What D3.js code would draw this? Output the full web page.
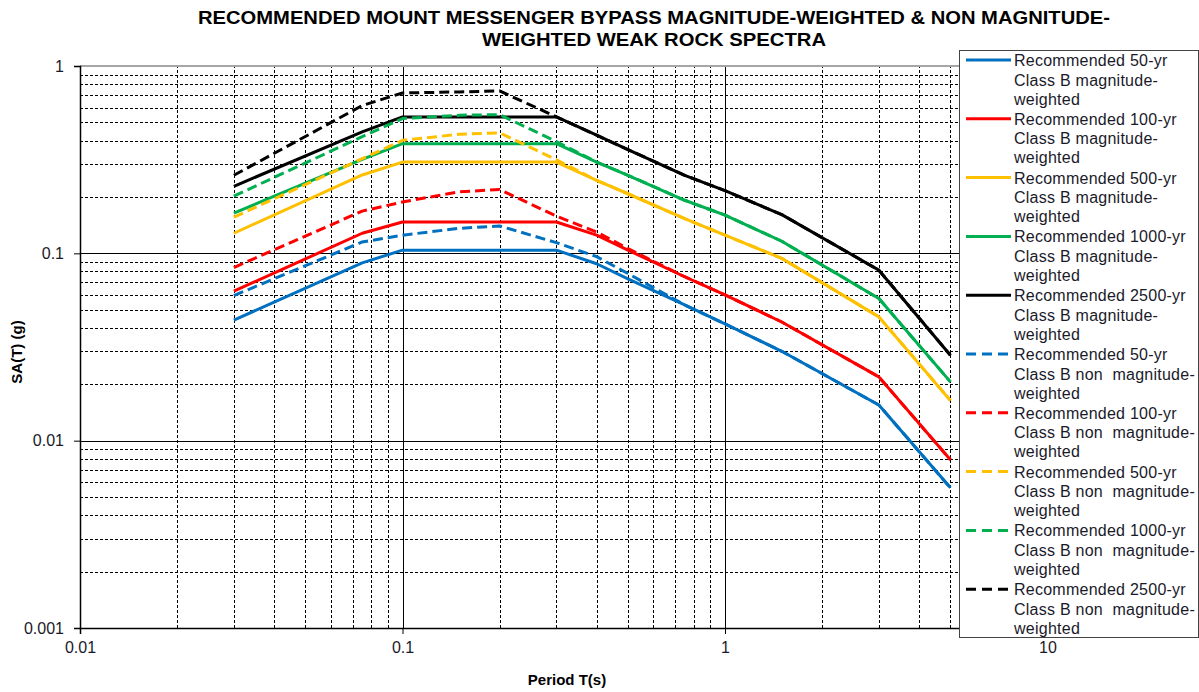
<!DOCTYPE html>
<html>
<head>
<meta charset="utf-8">
<script src="https://cdn.jsdelivr.net/npm/d3@7/dist/d3.min.js"></script>
<style>
  body { margin: 0; background: #fff; }
  svg { font-family: "Liberation Sans", Arial, sans-serif; }
</style>
</head>
<body>
<div id="chart"></div>
<script>
// periods (s) shared by all series
var periods = [0.03, 0.075, 0.1, 0.15, 0.2, 0.3, 0.4, 0.5, 0.75, 1, 1.5, 3, 5];

// magnitude-weighted (solid)
var mw50   = [0.044, 0.089, 0.104, 0.104, 0.104, 0.104, 0.088, 0.073, 0.053, 0.042, 0.030, 0.0155, 0.0056];
var mw100  = [0.0628, 0.128, 0.147, 0.147, 0.147, 0.147, 0.125, 0.104, 0.075, 0.060, 0.043, 0.0219, 0.0079];
var mw500  = [0.128, 0.262, 0.307, 0.307, 0.307, 0.307, 0.245, 0.208, 0.153, 0.125, 0.094, 0.0458, 0.0164];
var mw1000 = [0.164, 0.317, 0.385, 0.385, 0.385, 0.385, 0.307, 0.261, 0.192, 0.160, 0.116, 0.0574, 0.0206];
var mw2500 = [0.228, 0.445, 0.535, 0.535, 0.535, 0.535, 0.427, 0.358, 0.261, 0.216, 0.161, 0.0813, 0.0286];

// non magnitude-weighted (dashed)
var nmw50   = [0.0595, 0.115, 0.125, 0.136, 0.140, 0.114, 0.096, 0.078, 0.053, 0.042, 0.030, 0.0155, 0.0056];
var nmw100  = [0.084, 0.168, 0.188, 0.213, 0.219, 0.158, 0.130, 0.106, 0.075, 0.060, 0.043, 0.0219, 0.0079];
var nmw500  = [0.156, 0.320, 0.401, 0.432, 0.440, 0.316, 0.245, 0.208, 0.153, 0.125, 0.094, 0.0458, 0.0164];
var nmw1000 = [0.202, 0.420, 0.524, 0.546, 0.550, 0.395, 0.307, 0.261, 0.192, 0.160, 0.116, 0.0574, 0.0206];
var nmw2500 = [0.261, 0.615, 0.718, 0.727, 0.736, 0.535, 0.427, 0.358, 0.261, 0.216, 0.161, 0.0813, 0.0286];

var xTicks = [0.01, 0.1, 1, 10];
var yTicks = [0.001, 0.01, 0.1, 1];

var names = ["Recommended 50-yr", "Recommended 100-yr", "Recommended 500-yr", "Recommended 1000-yr", "Recommended 2500-yr"];
var colors = ["#0070C0", "#FF0000", "#FFC000", "#00B050", "#000000"];

var series = [
  {name: names[0], cls: "Class B magnitude-", vals: mw50, c: colors[0], dash: false},
  {name: names[1], cls: "Class B magnitude-", vals: mw100, c: colors[1], dash: false},
  {name: names[2], cls: "Class B magnitude-", vals: mw500, c: colors[2], dash: false},
  {name: names[3], cls: "Class B magnitude-", vals: mw1000, c: colors[3], dash: false},
  {name: names[4], cls: "Class B magnitude-", vals: mw2500, c: colors[4], dash: false},
  {name: names[0], cls: "Class B non  magnitude-", vals: nmw50, c: colors[0], dash: true},
  {name: names[1], cls: "Class B non  magnitude-", vals: nmw100, c: colors[1], dash: true},
  {name: names[2], cls: "Class B non  magnitude-", vals: nmw500, c: colors[2], dash: true},
  {name: names[3], cls: "Class B non  magnitude-", vals: nmw1000, c: colors[3], dash: true},
  {name: names[4], cls: "Class B non  magnitude-", vals: nmw2500, c: colors[4], dash: true}
];

var W = 1199, H = 692,
    p = {left: 80, right: 1047.5, top: 66, bot: 628};

var svg = d3.select("#chart").append("svg")
  .attr("width", W)
  .attr("height", H)

var x = d3.scaleLog().domain([0.01, 10]).range([p.left, p.right]);
var y = d3.scaleLog().domain([0.001, 1]).range([p.bot, p.top]);

// minor grid positions (2..9 in every decade)
var xMinor = [], yMinor = [];
xTicks.slice(0, -1).forEach(function(t){ for (var k = 2; k < 10; k++) xMinor.push(t * k) });
yTicks.slice(0, -1).forEach(function(t){ for (var k = 2; k < 10; k++) yMinor.push(t * k) });

var grid = svg.append("g").attr("shape-rendering", "crispEdges")

// minor dashed grid
grid.append("g")
  .attr("transform", "translate(0," + p.bot + ")")
  .call(d3.axisBottom(x).tickValues(xMinor).tickSize(-(p.bot - p.top)).tickFormat(""))
  .call(function(g){ g.select(".domain").remove() })
  .selectAll("line")
    .attr("stroke", "#000")
    .attr("stroke-dasharray", "3,2")

grid.append("g")
  .attr("transform", "translate(" + p.left + ",0)")
  .call(d3.axisLeft(y).tickValues(yMinor).tickSize(-(p.right - p.left)).tickFormat(""))
  .call(function(g){ g.select(".domain").remove() })
  .selectAll("line")
    .attr("stroke", "#000")
    .attr("stroke-dasharray", "3,2")

// major solid grid
grid.append("g")
  .attr("transform", "translate(0," + p.bot + ")")
  .call(d3.axisBottom(x).tickValues(xTicks.slice(1)).tickSize(-(p.bot - p.top)).tickFormat(""))
  .call(function(g){ g.select(".domain").remove() })
  .selectAll("line").attr("stroke", "#000")

grid.append("g")
  .attr("transform", "translate(" + p.left + ",0)")
  .call(d3.axisLeft(y).tickValues(yTicks.slice(1, -1)).tickSize(-(p.right - p.left)).tickFormat(""))
  .call(function(g){ g.select(".domain").remove() })
  .selectAll("line").attr("stroke", "#000")

// top border (grey)
grid.append("line")
  .attr("x1", p.left).attr("x2", p.right)
  .attr("y1", y(1)).attr("y2", y(1))
  .attr("stroke", "#a6a6a6").attr("stroke-width", 2)

// axes
var fmt = function(d){ return String(+d.toPrecision(3)) };

var xAxis = svg.append("g")
  .attr("transform", "translate(0," + p.bot + ")")
  .call(d3.axisBottom(x).tickValues(xTicks).tickSize(6).tickPadding(8).tickFormat(fmt))
xAxis.select(".domain").attr("stroke", "#000").attr("stroke-width", 1.5)
xAxis.selectAll("text").attr("font-size", "16px").attr("fill", "#1a1a2a")

var yAxis = svg.append("g")
  .attr("transform", "translate(" + p.left + ",0)")
  .call(d3.axisLeft(y).tickValues(yTicks).tickSize(6).tickPadding(10).tickFormat(fmt))
yAxis.select(".domain").attr("stroke", "#000").attr("stroke-width", 1.5)
yAxis.selectAll("text").attr("font-size", "16px").attr("fill", "#1a1a2a")

// series lines
var line = d3.line()
  .x(function(d){ return x(d[0]) })
  .y(function(d){ return y(d[1]) })

svg.selectAll(".series")
  .data(series)
  .enter()
    .append("path")
      .attr("class", "series")
      .attr("d", function(s){ return line(periods.map(function(t, i){ return [t, s.vals[i]] })) })
      .attr("fill", "none")
      .attr("stroke", function(s){ return s.c })
      .attr("stroke-width", 3)
      .attr("stroke-linejoin", "round")
      .attr("stroke-dasharray", function(s){ return s.dash ? "10,5" : null })

// titles
var title = svg.append("g").attr("font-weight", "bold").attr("font-size", "18px").attr("text-anchor", "middle")
title.append("text").attr("x", 654).attr("y", 24)
  .attr("textLength", 912).attr("lengthAdjust", "spacingAndGlyphs")
  .text("RECOMMENDED MOUNT MESSENGER BYPASS MAGNITUDE-WEIGHTED & NON MAGNITUDE-")
title.append("text").attr("x", 654).attr("y", 46)
  .attr("textLength", 344).attr("lengthAdjust", "spacingAndGlyphs")
  .text("WEIGHTED WEAK ROCK SPECTRA")

svg.append("text")
  .attr("x", 567).attr("y", 685)
  .attr("text-anchor", "middle")
  .attr("font-weight", "bold").attr("font-size", "15px")
  .text("Period T(s)")

svg.append("text")
  .attr("transform", "translate(22,352) rotate(-90)")
  .attr("text-anchor", "middle")
  .attr("font-weight", "bold").attr("font-size", "15px")
  .text("SA(T)  (g)")

// legend
var lg = svg.append("g").attr("transform", "translate(959,50)")
lg.append("rect")
  .attr("width", 239).attr("height", 587)
  .attr("fill", "#fff").attr("stroke", "#444").attr("stroke-width", 1)
  .attr("shape-rendering", "crispEdges")

var item = lg.selectAll(".item")
  .data(series)
  .enter()
    .append("g")
      .attr("class", "item")
      .attr("transform", function(d, i){ return "translate(0," + (10 + i * 58.8) + ")" })

item.append("line")
  .attr("x1", 7).attr("x2", 52)
  .attr("y1", 0).attr("y2", 0)
  .attr("stroke", function(d){ return d.c })
  .attr("stroke-width", 3)
  .attr("stroke-dasharray", function(d){ return d.dash ? "10,6" : null })

var txt = item.append("text")
  .attr("font-size", "16px")
  .attr("fill", "#1a1a2a")
  .attr("letter-spacing", "0.25px")
  .attr("xml:space", "preserve")
txt.append("tspan").attr("x", 55).attr("y", 6).text(function(d){ return d.name })
txt.append("tspan").attr("x", 55).attr("y", 25.5).text(function(d){ return d.cls })
txt.append("tspan").attr("x", 55).attr("y", 44.5).text("weighted")
</script>
</body>
</html>
